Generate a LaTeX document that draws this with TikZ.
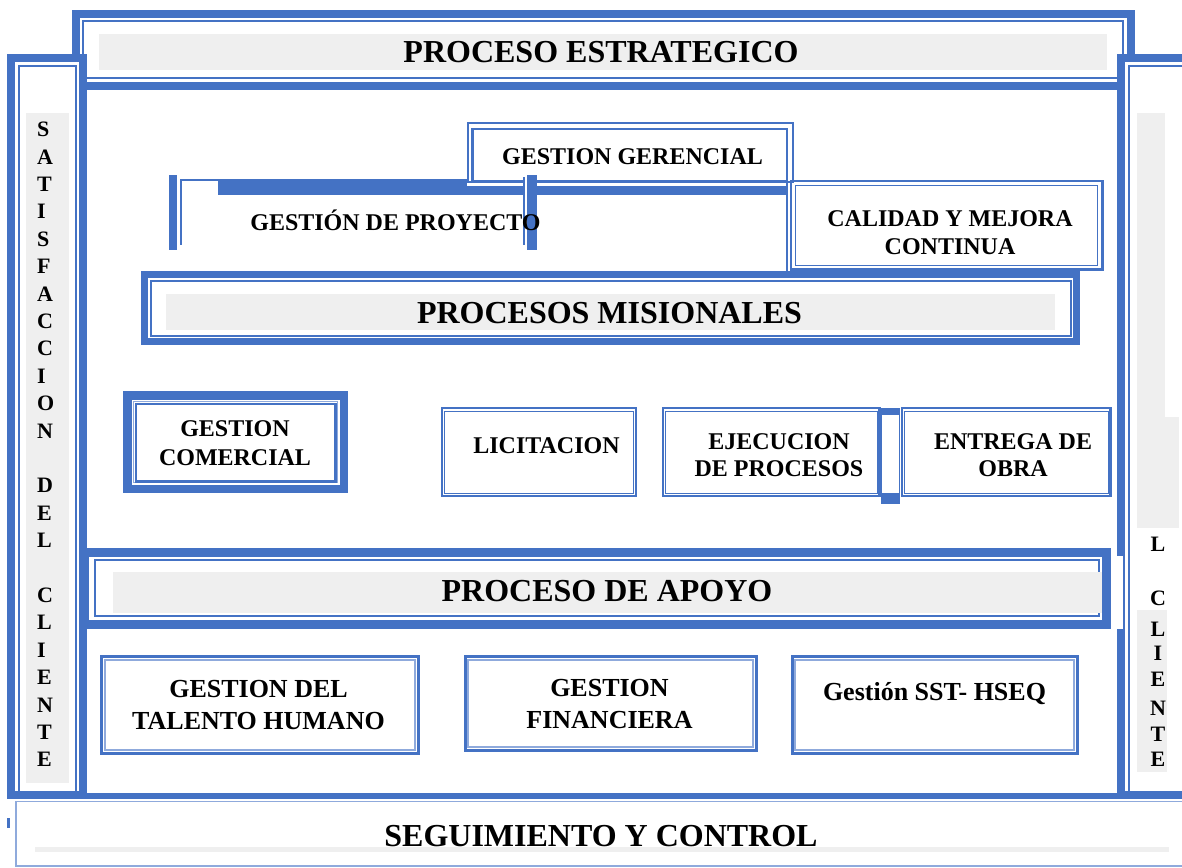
\documentclass[tikz,border=0pt]{standalone}
\usepackage{fontspec}
\setmainfont{Liberation Serif}
\definecolor{ob}{HTML}{4472C4}
\definecolor{lb}{HTML}{8FAADC}
\definecolor{gf}{HTML}{EFEFEF}
\begin{document}
\begin{tikzpicture}[x=1pt,y=-1pt,
  thk/.style={draw=ob,line width=8pt},
  thn/.style={draw=ob,line width=2pt},
  boxo/.style={draw=ob,line width=2.3pt},
  boxi/.style={draw=ob,line width=1pt},
  bo/.style={draw=ob,line width=3pt},
  bi/.style={draw=lb,line width=2pt},
  ttl/.style={font=\fontsize{32}{38}\selectfont\bfseries,inner sep=0pt,anchor=base},
  bx/.style={font=\fontsize{24}{28}\selectfont\bfseries,inner sep=0pt,align=center},
  bxb/.style={font=\fontsize{26}{32}\selectfont\bfseries,inner sep=0pt,align=center},
  ltr/.style={font=\fontsize{22}{26}\selectfont\bfseries,inner sep=0pt}]
\useasboundingbox (0,0) rectangle (1182,867);
\clip (0,0) rectangle (1182,867);

% PROCESO ESTRATEGICO
\draw[thk] (76,14) rectangle (1131,86);
\draw[thn] (83,21.5) rectangle (1123,77.5);
\fill[gf] (99,34) rectangle (1107,70);
\node[ttl] (estr) at (601,63) {PROCESO ESTRATEGICO};

% left frame
\fill[white] (7,54) rectangle (87,799);
\draw[thk] (11,58) rectangle (83,795);
\draw[thn] (19,66) rectangle (76,792);
\fill[gf] (26,113) rectangle (69,783);
\foreach \i/\c in {0/S,1/A,2/T,3/I,4/S,5/F,6/A,7/C,8/C,9/I,10/O,11/N,13/D,14/E,15/L,17/C,18/L,19/I,20/E,21/N,22/T,23/E}
  \node[ltr,anchor=base west] (sl\i) at (37,{136.7+27.4*\i}) {\c};

% right frame
\fill[white] (1117,54) rectangle (1182,799);
\draw[thk] (1121,58) rectangle (1195,795);
\draw[thn] (1128.5,66) rectangle (1200,792);
\fill[gf] (1137,113) rectangle (1165,417);
\fill[gf] (1137,417) rectangle (1179,528);
\fill[gf] (1137,610) rectangle (1166.5,772);
\foreach \y/\c/\n in {551.7/L/1,605/C/2,636.7/L/3,660/I/4,686.7/E/5,715/N/6,741.7/T/7,766.7/E/8}
  \node[ltr,anchor=base] (cr\n) at (1158,\y) {\c};

% SEGUIMIENTO Y CONTROL
\fill[ob] (7,793) rectangle (1182,799);
\draw[lb,line width=1.5pt] (1182,801.5) -- (16,801.5) -- (16,866) -- (1182,866);
\fill[gf] (35,847) rectangle (1169,852);
\fill[ob] (7,818) rectangle (10,828);
\node[ttl] (seg) at (601,846) {SEGUIMIENTO Y CONTROL};

% GESTION DE PROYECTO
\fill[ob] (169,175) rectangle (177,250);
\fill[ob] (180,178.5) rectangle (182.3,245);
\fill[ob] (180,178.5) rectangle (218.3,180.5);
\fill[ob] (218.3,179) rectangle (467,195);
% GESTION GERENCIAL
\draw[ob,line width=2pt] (467.5,123) rectangle (792.8,181.5);
\draw[ob,line width=2.5pt] (472.5,129) rectangle (787,181.5);
\fill[ob] (467,185.5) rectangle (787.7,194.5);
\draw[ob,line width=1.5pt] (787,181) -- (787,272);
\fill[white] (525,176) rectangle (527.3,195);
\fill[ob] (522.7,177) rectangle (525,245);
\fill[ob] (527.3,175) rectangle (536.7,250);
\node[bx,anchor=base] (ger) at (632.5,164) {GESTION GERENCIAL};
\node[bx,anchor=base] (proy) at (395.5,230) {GESTIÓN DE PROYECTO};

% CALIDAD
\draw[ob,line width=2.5pt] (791,180.8) rectangle (1102.5,269.5);
\draw[ob,line width=1.5pt] (795.5,185.5) rectangle (1097.5,265.5);
\node[bx,font=\fontsize{24}{28}\selectfont\bfseries] (cal) at (950,232.5) {CALIDAD Y MEJORA\\CONTINUA};

% PROCESOS MISIONALES
\draw[ob,line width=7pt] (144.5,274.5) rectangle (1076.5,341.5);
\draw[thn] (150.5,280.5) rectangle (1070.5,335.5);
\fill[gf] (166,294) rectangle (1055,330);
\node[ttl] (mis) at (609.5,323) {PROCESOS MISIONALES};

% GESTION COMERCIAL
\draw[ob,line width=8.5pt] (127.3,395.3) rectangle (343.8,488.8);
\draw[lb,line width=0.8pt] (133.2,401.2) rectangle (337.8,482.8);
\draw[ob,line width=2.2pt] (135.6,403.6) rectangle (335.4,481.4);
\node[bx,font=\fontsize{24}{29}\selectfont\bfseries] (com) at (235,443) {GESTION\\COMERCIAL};

% LICITACION
\draw[boxo] (442.2,408.3) rectangle (636.2,495.8);
\draw[boxi] (444.8,411) rectangle (633.5,493.3);
\node[bx,anchor=base] (lic) at (546.5,453) {LICITACION};

% EJECUCION
\draw[boxo] (663,408.3) rectangle (879.6,495.8);
\draw[boxi] (665.6,411) rectangle (877.3,493.3);
\node[bx,font=\fontsize{24}{27}\selectfont\bfseries] (eje) at (779,455) {EJECUCION\\DE PROCESOS};

% link
\fill[ob] (881,408) rectangle (900,415);
\fill[ob] (881,493) rectangle (900,504);
\draw[ob,line width=1.3pt] (881.7,415) -- (881.7,493) (899.3,415) -- (899.3,493);

% ENTREGA
\draw[boxo] (902,408.3) rectangle (1110.5,495.8);
\draw[boxi] (904.3,411) rectangle (1108,493.3);
\node[bx,font=\fontsize{24}{27}\selectfont\bfseries] (ent) at (1013,455) {ENTREGA DE\\OBRA};

% PROCESO DE APOYO
\draw[ob,line width=9pt] (84,552.5) rectangle (1106.5,624);
\draw[thn] (95,560) rectangle (1099,616);
\fill[gf] (113,572) rectangle (1102,613);
\fill[white] (1111.5,555.5) rectangle (1123.3,628.5);
\draw[ob,line width=1.2pt] (1124.2,555.5) -- (1124.2,628.5);
\node[ttl] (apo) at (607,601) {PROCESO DE APOYO};

% bottom boxes
\draw[bo] (101.7,656.5) rectangle (418.7,753.3);
\draw[bi] (105,660) rectangle (415.3,750);
\node[bxb] (tal) at (258.5,705) {GESTION DEL\\TALENTO HUMANO};

\draw[bo] (465,656.5) rectangle (756.3,750.3);
\draw[bi] (468.2,659.8) rectangle (753,747);
\node[bxb] (fin) at (609.5,704.5) {GESTION\\FINANCIERA};

\draw[bo] (792,656.5) rectangle (1077.5,753.3);
\draw[bi] (795.2,659.8) rectangle (1074.3,750);
\node[bxb,anchor=base] (sst) at (934.5,700) {Gestión SST- HSEQ};
\end{tikzpicture}
\end{document}
